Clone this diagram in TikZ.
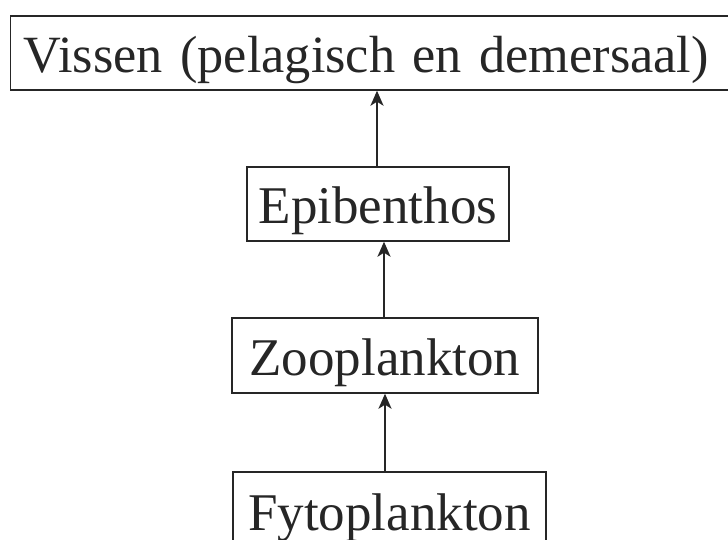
\documentclass[tikz,border=0pt]{standalone}
\usepackage{fontspec}
\setmainfont{Liberation Serif}
\usetikzlibrary{arrows.meta}
\definecolor{ink}{HTML}{262626}
\begin{document}
\begin{tikzpicture}[x=1pt,y=-1pt,
  box/.style={draw=ink, line width=1.4pt, text=ink, inner xsep=0pt, inner ysep=0pt,
    font=\fontsize{53}{60}\selectfont, text height=52pt, text depth=12pt},
  feed/.style={draw=ink, line width=2pt, -{Stealth[length=15pt,width=13pt,inset=4pt]}}]
\useasboundingbox (0,0) rectangle (728,540);
\clip (0,0) rectangle (728,540);
\fill[white] (0,0) rectangle (728,540);
\node[box, font=\fontsize{52.3}{60}\selectfont, anchor=west, inner xsep=13pt, text width=705pt, align=left, minimum height=74pt] (vis) at (10,53) {\mbox{Vissen (pelagisch en demersaal)}};
\node[box, minimum width=262pt, minimum height=74pt] (epi) at (378,204) {Epibenthos};
\node[box, minimum width=306pt, minimum height=75pt] (zoo) at (385,355.5) {Zooplankton};
\node[box, minimum width=313pt, minimum height=76pt] (fyto) at (389.5,510) {Fytoplankton};
\draw[feed] ([xshift=-1pt]epi.north) -- ([xshift=-1pt]epi.north |- vis.south);
\draw[feed] ([xshift=-1pt]zoo.north) -- ([xshift=-1pt]zoo.north |- epi.south);
\draw[feed] ([xshift=-4.5pt]fyto.north) -- ([xshift=-4.5pt]fyto.north |- zoo.south);
\end{tikzpicture}
\end{document}
